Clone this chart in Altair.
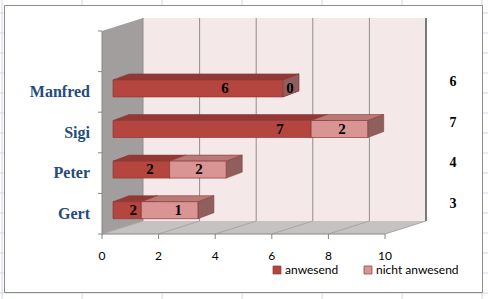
import altair as alt
import pandas as pd

# ---------------- data ----------------
names = ["Manfred", "Sigi", "Peter", "Gert"]
slots = [1, 2, 3, 4]
anwesend = [6, 7, 2, 1]            # drawn bar lengths
nicht_anwesend = [0, 2, 2, 2]
anwesend_text = ["6", "7", "2", "2"]  # labels as printed
nicht_text = ["0", "2", "2", "1"]
anwesend_text_x = [4.35, 6.29, 1.70, 1.10]
nicht_text_x = [6.64, 8.48, 3.43, 2.69]
totals_text = ["6", "7", "4", "3"]
x_ticks = [0, 2, 4, 6, 8, 10]
series = ["anwesend", "nicht anwesend"]

# ---------------- layout / style ----------------
W, H = 488, 299
X0, X1 = 102, 385
Y0, Y1 = 31, 234
UX = (X1 - X0) / 10.0
UY = (Y1 - Y0) / 5.0


def px_x(p):
    return p / UX


def px_y(p):
    return p / UY


WDX, WDY = px_x(41), px_y(-13)      # wall depth
BDX = px_x(11)                      # bar front offset
FT, FB = px_y(-12), px_y(5)         # bar front top/bottom relative to slot
DDX, DDY = px_x(16), px_y(-6)       # bar depth

SERIF = "Liberation Serif"
SANS = "Lato"

RED_FRONT, RED_TOP, RED_SIDE = "#b4453f", "#923835", "#7d302d"
PINK_FRONT, PINK_TOP, PINK_SIDE = "#d99593", "#b97977", "#8f5f5e"
BAR_STROKE = "#8b3a37"

xs = alt.Scale(domain=[0, 10], range=[X0, X1], zero=False, nice=False)
ys = alt.Scale(domain=[-0.5, 4.5], range=[Y0, Y1], zero=False, nice=False)


def X(f):
    return alt.X(f, type="quantitative", scale=xs, axis=None)


def Y(f):
    return alt.Y(f, type="quantitative", scale=ys, axis=None, stack=None)


one = pd.DataFrame({"a": [0]})

# ---------------- spreadsheet background ----------------
grid_cols = list(range(2, W + 1, 80))
grid_rows = list(range(13, H + 1, 20))
sheet_v = alt.Chart(pd.DataFrame({"p": grid_cols})).mark_rule(color="#d0d7e5", strokeWidth=1).encode(
    x=alt.X("p:Q", scale=None, axis=None), y=alt.value(0), y2=alt.value(H))
sheet_h = alt.Chart(pd.DataFrame({"p": grid_rows})).mark_rule(color="#d0d7e5", strokeWidth=1).encode(
    y=alt.Y("p:Q", scale=None, axis=None), x=alt.value(0), x2=alt.value(W))
frame = alt.Chart(one).mark_rect(fill="white", stroke="#8c8c8c", strokeWidth=1).encode(
    x=alt.value(4.5), x2=alt.value(482.5), y=alt.value(5.5), y2=alt.value(292.5))

# ---------------- walls ----------------
back = alt.Chart(pd.DataFrame({"x": [0 + WDX], "x2": [10 + WDX], "y": [-0.5 + WDY], "y2": [4.5 + WDY]})).mark_rect(
    fill="#f5e8e8").encode(x=X("x"), x2="x2", y=Y("y"), y2="y2")

side = alt.Chart(pd.DataFrame({"x": [0, WDX], "y": [-0.5, -0.5 + WDY], "y2": [4.5, 4.5 + WDY]})).mark_area(
    fill="#a39e9e", orient="vertical").encode(x=X("x"), y=Y("y"), y2="y2")

floor = alt.Chart(pd.DataFrame({
    "x": [0, WDX, 10, 10 + WDX],
    "y": [4.5, 4.5 + WDY, 4.5 + WDY, 4.5 + WDY],
    "y2": [4.5, 4.5, 4.5, 4.5 + WDY]})).mark_area(fill="#c6c2c2", orient="vertical").encode(
    x=X("x"), y=Y("y"), y2="y2")

back_grid = alt.Chart(pd.DataFrame({"k": [k + WDX for k in x_ticks]})).mark_rule(
    color="#8e8e8e", strokeWidth=1).encode(
    x=X("k"), y=alt.Y("y:Q", scale=ys, axis=None), y2="y2:Q").transform_calculate(
    y=str(-0.5 + WDY), y2=str(4.5 + WDY))

right_edge = alt.Chart(pd.DataFrame({"x": [10 + WDX], "y": [-0.5 + WDY], "y2": [4.5 + WDY]})).mark_rule(
    color="#7a7a7a", strokeWidth=2).encode(x=X("x"), y=Y("y"), y2="y2")

floor_lines = alt.Chart(pd.DataFrame({
    "x": [float(k) for k in x_ticks], "x2": [k + WDX for k in x_ticks],
    "y": [4.5] * len(x_ticks), "y2": [4.5 + WDY] * len(x_ticks)})).mark_rule(
    color="#a9a5a5", strokeWidth=1).encode(x=X("x"), x2="x2", y=Y("y"), y2="y2")

# ---------------- axes ----------------
axis_col = "#868686"
x_axis_line = alt.Chart(pd.DataFrame({"x": [0], "x2": [10], "y": [4.5]})).mark_rule(color=axis_col).encode(
    x=X("x"), x2="x2", y=Y("y"))
x_tick_marks = alt.Chart(pd.DataFrame({"x": x_ticks, "y": [4.5] * 6, "y2": [4.5 + px_y(5)] * 6})).mark_rule(
    color=axis_col).encode(x=X("x"), y=Y("y"), y2="y2")
x_tick_labels = alt.Chart(pd.DataFrame({"x": x_ticks, "y": [4.5 + px_y(22)] * 6,
                                        "t": [str(v) for v in x_ticks]})).mark_text(
    font=SANS, fontSize=12, color="#000000", baseline="middle", align="center").encode(
    x=X("x"), y=Y("y"), text="t:N")

bounds = [-0.5, 0.5, 1.5, 2.5, 3.5, 4.5]
y_axis_line = alt.Chart(pd.DataFrame({"x": [0], "y": [-0.5], "y2": [4.5]})).mark_rule(color=axis_col).encode(
    x=X("x"), y=Y("y"), y2="y2")
y_tick_marks = alt.Chart(pd.DataFrame({"y": bounds, "x": [0] * 6, "x2": [px_x(-4)] * 6})).mark_rule(
    color=axis_col).encode(x=X("x"), x2="x2", y=Y("y"))
y_labels = alt.Chart(pd.DataFrame({"y": slots, "x": [px_x(-12)] * 4, "t": names})).mark_text(
    font=SERIF, fontSize=16, fontWeight="bold", color="#254b7c", align="right", baseline="middle").encode(
    x=X("x"), y=Y("y"), text="t:N")

# ---------------- bars ----------------
fronts, tops, sides = [], [], []
for si, (vals, fcol, tcol, scol) in enumerate([
        (anwesend, RED_FRONT, RED_TOP, RED_SIDE),
        (nicht_anwesend, PINK_FRONT, PINK_TOP, PINK_SIDE)]):
    for i, slot in enumerate(slots):
        s = 0 if si == 0 else anwesend[i]
        e = s + vals[i]
        top, bot = slot + FT, slot + FB
        gid = f"{si}{i}"
        if e > s:
            fronts.append({"x": s + BDX, "x2": e + BDX, "y": top, "y2": bot, "series": series[si]})
            for px_, yy, yy2 in [(s + BDX, top, top), (s + BDX + DDX, top + DDY, top),
                                 (e + BDX, top + DDY, top), (e + BDX + DDX, top + DDY, top + DDY)]:
                tops.append({"g": "t" + gid, "x": px_, "y": yy, "y2": yy2, "c": tcol})
        for px_, yy, yy2 in [(e + BDX, top, bot), (e + BDX + DDX, top + DDY, bot + DDY)]:
            sides.append({"g": "s" + gid, "x": px_, "y": yy, "y2": yy2, "c": scol})

side_layer = alt.Chart(pd.DataFrame(sides)).mark_area(
    orient="vertical", stroke=BAR_STROKE, strokeWidth=0.6).encode(
    x=X("x"), y=Y("y"), y2="y2", detail="g:N", color=alt.Color("c:N", scale=None))
top_layer = alt.Chart(pd.DataFrame(tops)).mark_area(
    orient="vertical", stroke=BAR_STROKE, strokeWidth=0.6).encode(
    x=X("x"), y=Y("y"), y2="y2", detail="g:N", color=alt.Color("c:N", scale=None))
front_layer = alt.Chart(pd.DataFrame(fronts)).mark_rect(stroke=BAR_STROKE, strokeWidth=0.7).encode(
    x=X("x"), x2="x2", y=Y("y"), y2="y2",
    color=alt.Color("series:N", scale=alt.Scale(domain=series, range=[RED_FRONT, PINK_FRONT]),
                    legend=alt.Legend(orient="none", legendX=271, legendY=264, direction="horizontal",
                                      title=None, symbolType="square", symbolSize=64,
                                      symbolStrokeColor=BAR_STROKE, symbolStrokeWidth=0.7,
                                      labelFont=SANS, labelFontSize=12, labelColor="#000000",
                                      labelOffset=2, columnPadding=23, padding=0)))

bar_labels = alt.Chart(pd.DataFrame({
    "x": anwesend_text_x + nicht_text_x,
    "y": [s + px_y(-4) for s in slots] * 2,
    "t": anwesend_text + nicht_text})).mark_text(
    font=SERIF, fontSize=15, fontWeight="bold", color="#000000", baseline="middle", align="center").encode(
    x=X("x"), y=Y("y"), text="t:N")

total_labels = alt.Chart(pd.DataFrame({
    "x": [px_x(453 - X0)] * 4, "y": [s - 0.24 for s in slots], "t": totals_text})).mark_text(
    font=SERIF, fontSize=14, fontWeight="bold", color="#000000", baseline="middle", align="center").encode(
    x=X("x"), y=Y("y"), text="t:N")

chart = alt.layer(
    sheet_v, sheet_h, frame,
    back, side, floor, back_grid, floor_lines, right_edge,
    x_axis_line, x_tick_marks, x_tick_labels, y_axis_line, y_tick_marks, y_labels,
    side_layer, top_layer, front_layer, bar_labels, total_labels,
).resolve_scale(x="independent", y="independent", color="independent").properties(
    width=W, height=H, autosize=alt.AutoSizeParams(type="none"), padding=0, background="white"
).configure_view(stroke=None)

chart.save("out.html", embed_options={"renderer": "svg", "actions": False})
